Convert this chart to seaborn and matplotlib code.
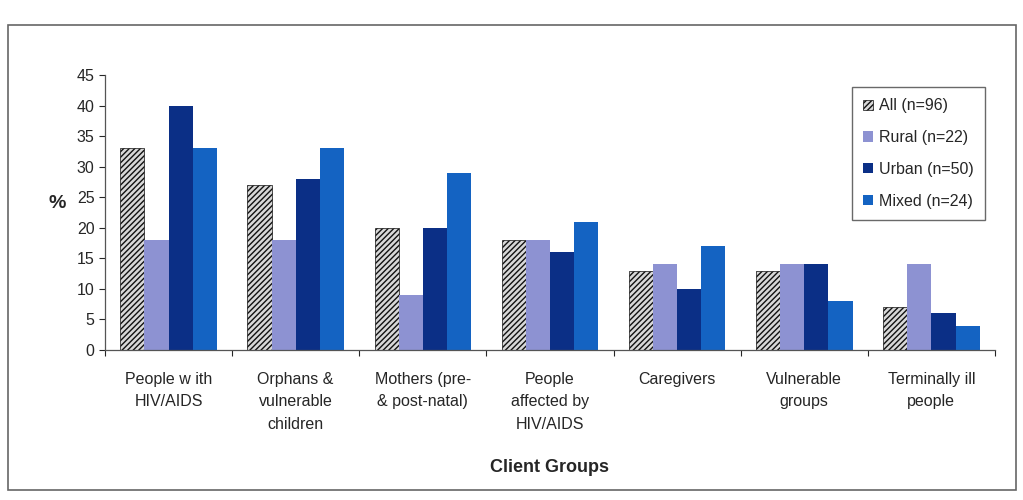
import numpy as np
import pandas as pd
import matplotlib
matplotlib.use("Agg")
import matplotlib.pyplot as plt
from matplotlib.patches import Rectangle
import seaborn as sns

groups = ["People w ith\nHIV/AIDS", "Orphans &\nvulnerable\nchildren", "Mothers (pre-\n& post-natal)",
          "People\naffected by\nHIV/AIDS", "Caregivers", "Vulnerable\ngroups", "Terminally ill\npeople"]
series = ["All (n=96)", "Rural (n=22)", "Urban (n=50)", "Mixed (n=24)"]
all_vals = [33, 27, 20, 18, 13, 13, 7]
rural_vals = [18, 18, 9, 18, 14, 14, 14]
urban_vals = [40, 28, 20, 16, 10, 14, 6]
mixed_vals = [33, 33, 29, 21, 17, 8, 4]

df = pd.DataFrame({
    "group": groups * 4,
    "series": np.repeat(series, len(groups)),
    "pct": all_vals + rural_vals + urban_vals + mixed_vals,
})

sns.set_style("white")
plt.rcParams["font.family"] = ["Liberation Sans", "DejaVu Sans"]
plt.rcParams["hatch.color"] = "#111111"
plt.rcParams["hatch.linewidth"] = 1.0

colors = ["#d8d8d8", "#8d92d2", "#0b2f86", "#1463c2"]

fig = plt.figure(figsize=(10.23, 5.0), dpi=100)
ax = fig.add_axes([0.1026, 0.30, 0.870, 0.55])
sns.barplot(data=df, x="group", y="pct", hue="series", palette=colors,
            width=0.76, gap=0, ax=ax, legend=True, saturation=1, linewidth=0)

# hatch the "All" bars
for bar in ax.containers[0]:
    bar.set_hatch("//////")
    bar.set_edgecolor("#111111")
    bar.set_linewidth(0.5)

ax.set_ylim(0, 45)
ax.set_yticks(range(0, 46, 5))
ax.set_xlim(-0.47, len(groups) - 0.53)
ax.tick_params(axis="y", labelsize=11.5, length=4, direction="out", left=True, width=0.8)
ax.tick_params(axis="x", labelsize=11.5, length=0, pad=16)
for lab in ax.get_xticklabels():
    lab.set_linespacing(1.6)
ax.set_xticks(np.arange(-0.5, len(groups), 1.0), minor=True)
ax.tick_params(axis="x", which="minor", length=4, bottom=True, width=0.8)
for s in ["top", "right"]:
    ax.spines[s].set_visible(False)
for s in ["left", "bottom"]:
    ax.spines[s].set_color("#555555")
    ax.spines[s].set_linewidth(0.9)

ax.set_ylabel("%", fontsize=14, fontweight="bold", rotation=0, labelpad=14)
ax.set_xlabel("Client Groups", fontsize=13, fontweight="bold", labelpad=20)

leg = ax.legend(loc="upper right", bbox_to_anchor=(0.998, 0.985), fontsize=11.5,
                frameon=True, fancybox=False, edgecolor="#444444",
                handlelength=0.6, handleheight=0.6, handletextpad=0.4,
                labelspacing=1.05, borderpad=0.7)
leg.get_frame().set_linewidth(1.0)
h0 = leg.legend_handles[0]
h0.set_hatch("//////")
h0.set_edgecolor("#111111")
h0.set_linewidth(0.5)

# outer frame around the chart
fig.patches.append(Rectangle((0.008, 0.02), 0.985, 0.93, transform=fig.transFigure,
                             fill=False, edgecolor="#666666", linewidth=1.2))

fig.savefig("out.png", dpi=100)
